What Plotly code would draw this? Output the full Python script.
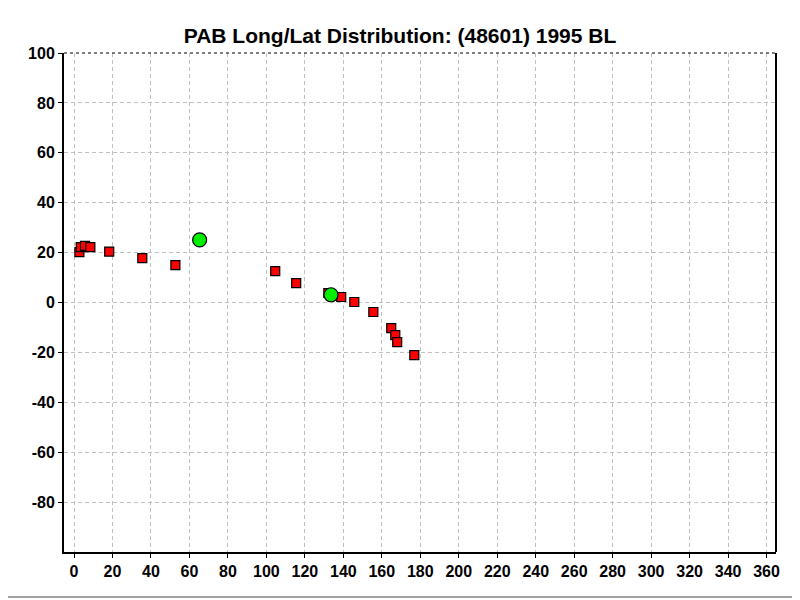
import plotly.graph_objects as go

# Red (observations) long/lat points
red_long = [2.8, 3.5, 5.7, 8.5, 18.3, 35.5, 52.7, 104.6, 115.5, 132.2, 138.9, 145.7, 155.6, 164.9, 167.0, 168.0, 176.9]
red_lat = [20.2, 22.2, 22.7, 22.2, 20.4, 17.8, 15.0, 12.6, 7.8, 3.8, 2.2, 0.2, -3.8, -10.3, -13.1, -15.9, -21.1]

# Green points
green_long = [65.3, 133.6]
green_lat = [25.1, 3.1]

x_ticks = list(range(0, 361, 20))
y_ticks = list(range(-80, 101, 20))

fig = go.Figure()
fig.add_trace(go.Scatter(
    x=red_long, y=red_lat, mode="markers",
    marker=dict(symbol="square", size=9, color="#ff0000", line=dict(color="black", width=1.2)),
    showlegend=False, hoverinfo="x+y"))
fig.add_trace(go.Scatter(
    x=green_long, y=green_lat, mode="markers",
    marker=dict(symbol="circle", size=14, color="#00ee00", line=dict(color="black", width=1.2)),
    showlegend=False, hoverinfo="x+y"))

font_family = "Liberation Sans, Arial, sans-serif"
W, H = 792, 592
L, R, T, B = 56, 24, 45, 48
PW, PH = W - L - R, H - T - B
fx = lambda px: (px - 8 - L) / PW
fy = lambda py: 1 - (py - 8 - T) / PH

fig.update_layout(
    width=W, height=H,
    margin=dict(l=L, r=R, t=T, b=B, pad=0),
    paper_bgcolor="white", plot_bgcolor="white",
    title=dict(text="PAB Long/Lat Distribution: (48601) 1995 BL",
               x=fx(400), xanchor="center", xref="paper", y=1 - 28 / H, yanchor="middle",
               font=dict(family=font_family, size=21, color="black", weight="bold")),
    xaxis=dict(range=[-5.2, 364.9], tickvals=x_ticks, ticktext=[str(v) for v in x_ticks],
               showgrid=True, gridcolor="#c0c0c0", griddash="4px,3px", gridwidth=1,
               zeroline=False, showline=True, linecolor="black", linewidth=2,
               ticks="outside", ticklen=4, tickcolor="black",
               tickfont=dict(family=font_family, size=16, color="black", weight="bold"),
               fixedrange=True),
    yaxis=dict(range=[-100, 100], tickvals=y_ticks, ticktext=[str(v) for v in y_ticks],
               showgrid=True, gridcolor="#c0c0c0", griddash="4px,3px", gridwidth=1,
               zeroline=False, showline=True, linecolor="black", linewidth=2,
               ticks="outside", ticklen=4, tickcolor="black",
               tickfont=dict(family=font_family, size=16, color="black", weight="bold"),
               fixedrange=True),
    shapes=[
        # dashed black top border
        dict(type="line", xref="paper", yref="paper", x0=0, x1=1, y0=1, y1=1,
             line=dict(color="black", width=1, dash="3px,3px")),
        # solid right border
        dict(type="line", xref="paper", yref="paper", x0=1, x1=1, y0=0, y1=1,
             line=dict(color="black", width=2)),
        # window frame lines (light gray) at right and bottom of image
        dict(type="line", xref="paper", yref="paper",
             x0=fx(8), x1=fx(797), y0=fy(597), y1=fy(597),
             line=dict(color="#a0a0a0", width=2)),
        dict(type="line", xref="paper", yref="paper",
             x0=fx(796), x1=fx(796), y0=fy(597), y1=fy(9),
             line=dict(color="#a0a0a0", width=2)),
    ],
)

fig.write_html("out.html")
